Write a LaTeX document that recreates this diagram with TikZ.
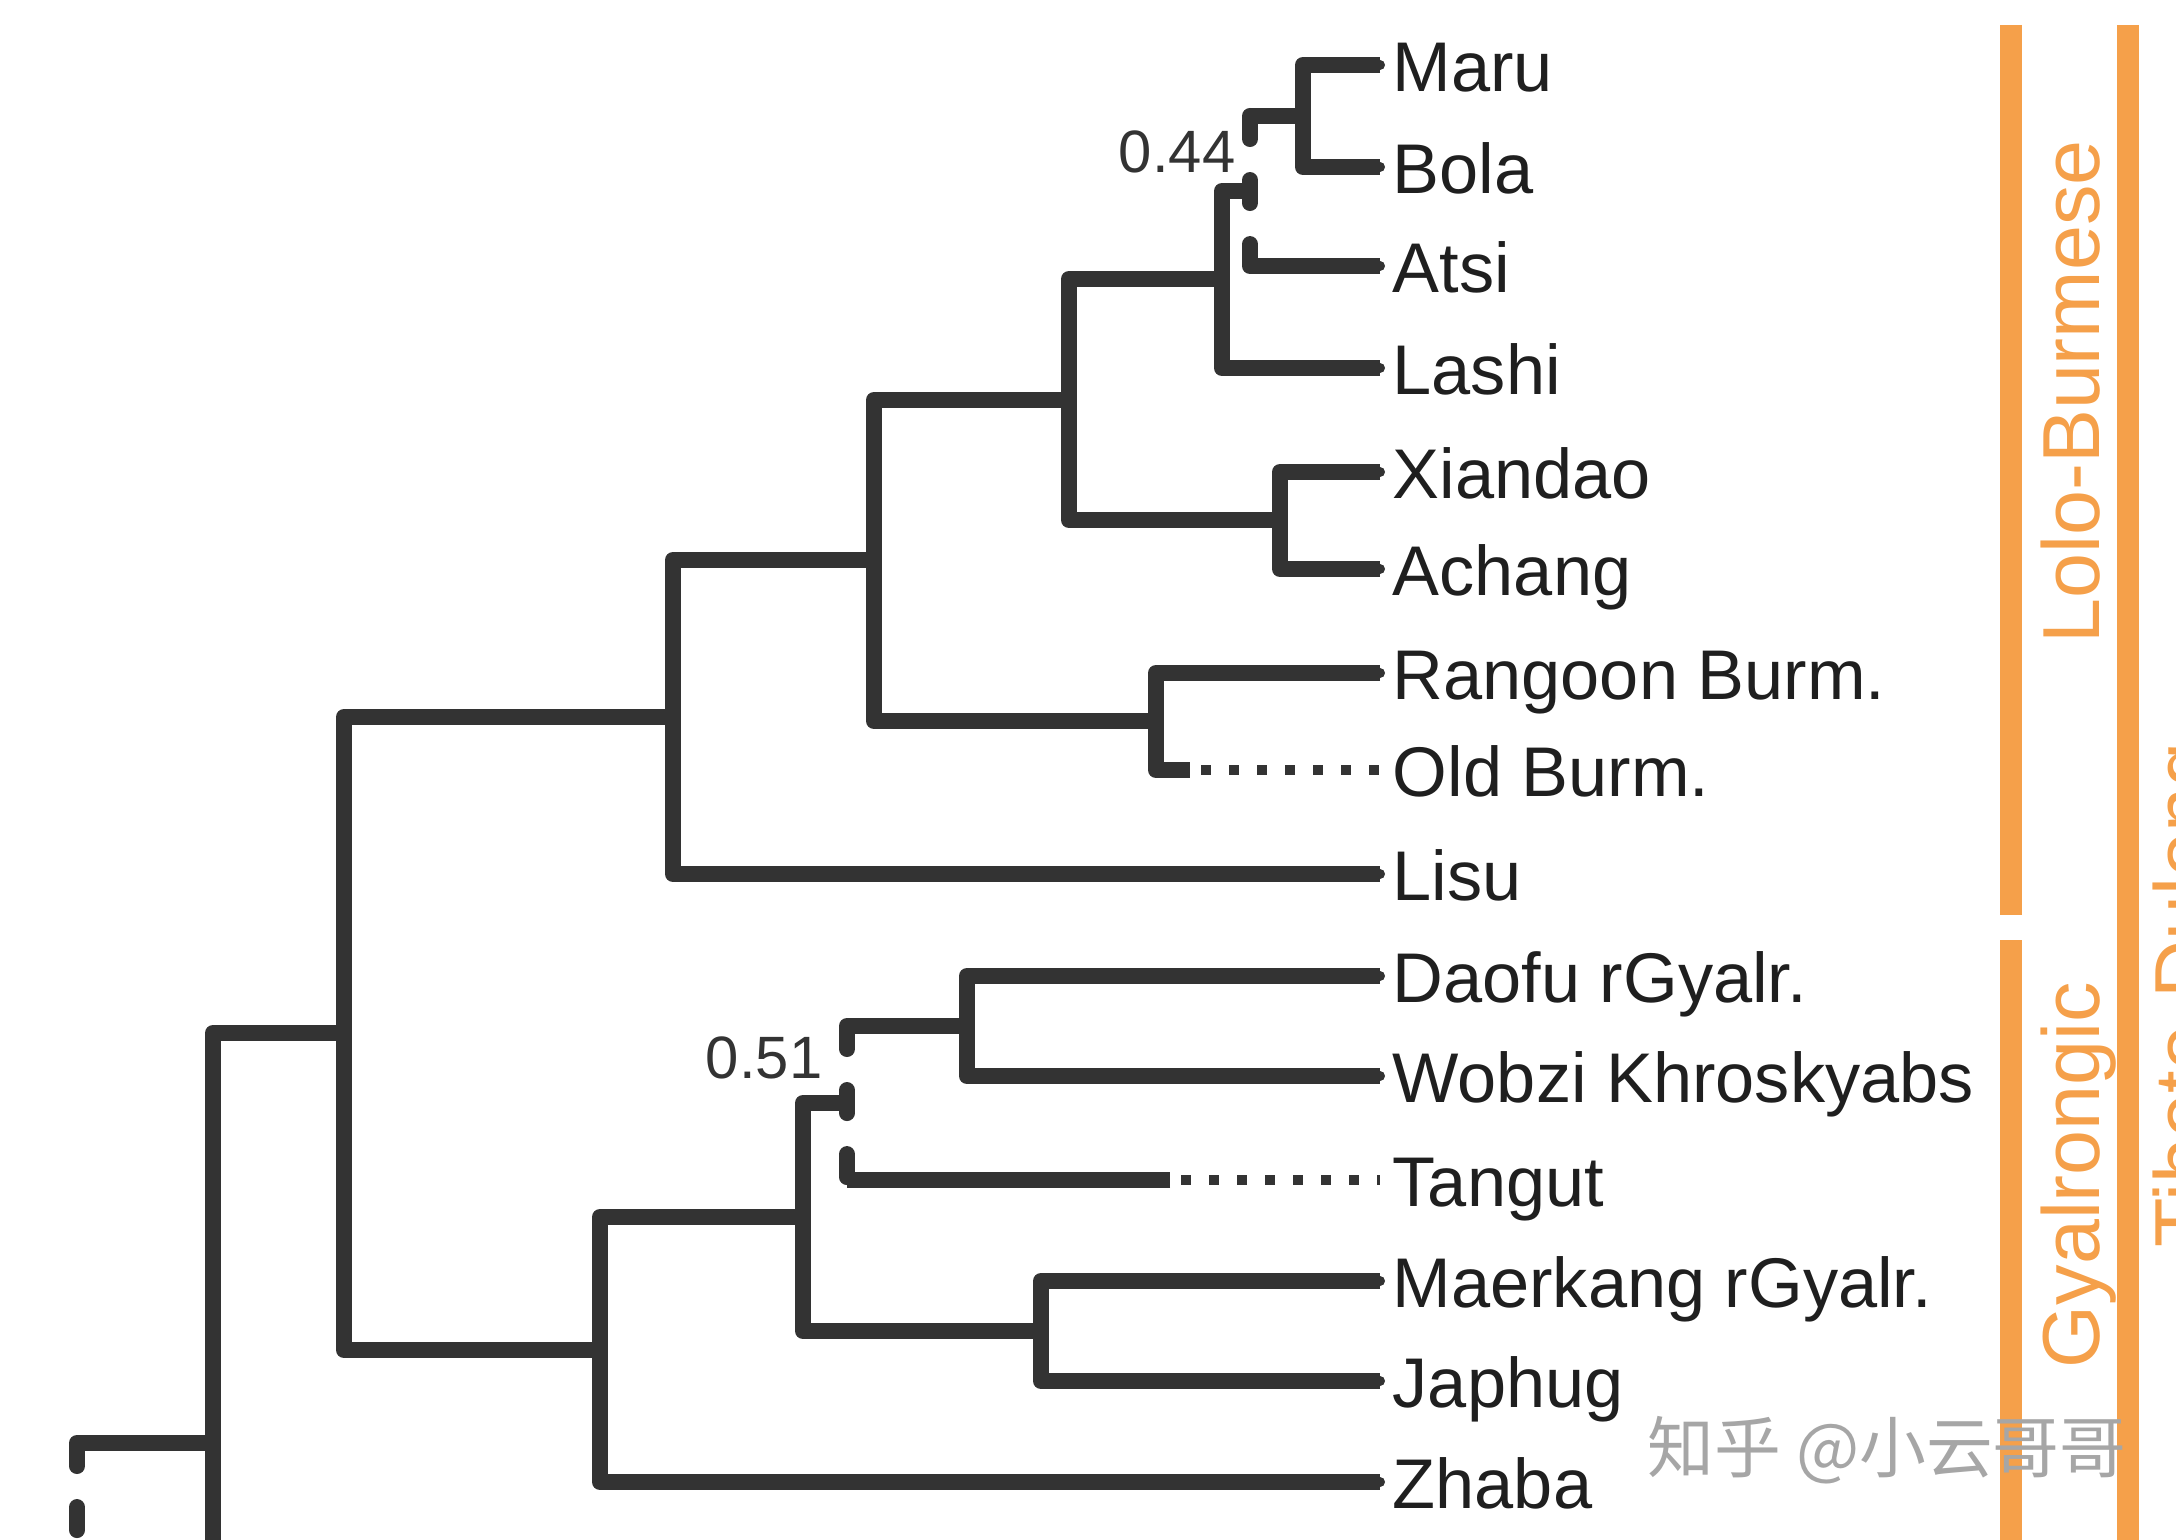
\documentclass[tikz,border=0pt]{standalone}
\usepackage{fontspec}
\setmainfont{Liberation Sans}
\newfontfamily\cjkfont{Noto Sans CJK SC}
\usetikzlibrary{positioning}

\definecolor{branchgray}{HTML}{333333}
\definecolor{cladeorange}{HTML}{F5A04A}

\begin{document}
\begin{tikzpicture}[
        x=0.01cm, y=-0.01cm,
        branch/.style={draw=branchgray, line width=1.6mm, line join=round},
        uncertain/.style={draw=branchgray, line width=1.6mm, line cap=round,
            dash pattern=on 2.3mm off 4.1mm},
        extinct/.style={draw=branchgray, line width=1mm,
            dash pattern=on 1mm off 1.8mm, dash phase=1.7mm},
        taxon/.style={anchor=base west, inner sep=0pt, xshift=1.2mm, yshift=-2.6mm,
            font=\fontsize{20}{24}\selectfont, text=black!88},
        support/.style={anchor=base east, inner sep=0pt,
            font=\fontsize{17}{20}\selectfont, text=black!80},
        cladebar/.style={draw=cladeorange, line width=2.2mm},
        cladename/.style={anchor=base, rotate=90, inner sep=0pt,
            font=\fontsize{23}{27}\selectfont, text=cladeorange}
    ]
        % Page frame (pixel units)
        \useasboundingbox (0,0) rectangle (2176,1540);
        \clip (0,0) rectangle (2176,1540);

        % Clade bars on the right
        \draw[cladebar] (2011,25) -- (2011,915);
        \draw[cladebar] (2011,940) -- (2011,1540);
        \draw[cladebar] (2128,25) -- (2128,1540);
        \node[cladename] (lolo) at (2099,392) {Lolo-Burmese};
        \node[cladename] (gyal) at (2099,1175) {Gyalrongic};
        \node[cladename] (tibdul) at (2211,995) {Tibeto-Dulong};

        % Leaf tips
        \coordinate (maru) at (1380,65);
        \coordinate (bola) at (1380,167);
        \coordinate (atsi) at (1380,266);
        \coordinate (lashi) at (1380,368);
        \coordinate (xiandao) at (1380,472);
        \coordinate (achang) at (1380,569);
        \coordinate (rangoon) at (1380,673);
        \coordinate (oldburm) at (1380,770);
        \coordinate (lisu) at (1380,874);
        \coordinate (daofu) at (1380,976);
        \coordinate (wobzi) at (1380,1076);
        \coordinate (tangut) at (1380,1180);
        \coordinate (maerkang) at (1380,1281);
        \coordinate (japhug) at (1380,1381);
        \coordinate (zhaba) at (1380,1482);

        % Internal nodes
        \coordinate (nMB) at (1303,116);
        \coordinate (n44) at (1250,191);
        \coordinate (nL) at (1222,279);
        \coordinate (nXA) at (1280,520);
        \coordinate (nLB1) at (1069,400);
        \coordinate (oldstub) at (1190,770);
        \coordinate (nRB) at (1156,721);
        \coordinate (nBurm) at (874,560);
        \coordinate (nLoloB) at (673,717);
        \coordinate (nDW) at (967,1026);
        \coordinate (tangstub) at (1170,1180);
        \coordinate (n51) at (847,1103);
        \coordinate (nMJ) at (1041,1331);
        \coordinate (nG1) at (803,1217);
        \coordinate (nGyal) at (600,1350);
        \coordinate (nTop) at (344,1033);
        \coordinate (nCore) at (213,1443);
        \coordinate (nRoot) at (77,1443);

        % Lolo-Burmese part
        \draw[branch] (maru) -| (nMB) |- (bola);
        \draw[branch] (nMB) -- (nMB -| n44);
        \draw[branch] (atsi) -- (atsi -| n44);
        \draw[uncertain] (nMB -| n44) -- (atsi -| n44);
        \draw[branch] (n44) -| (nL) |- (lashi);
        \draw[branch] (xiandao) -| (nXA) |- (achang);
        \draw[branch] (nL) -| (nLB1) |- (nXA);
        \draw[branch] (rangoon) -| (nRB) |- (oldstub);
        \draw[extinct] (oldstub) -- (oldburm);
        \draw[branch] (nLB1) -| (nBurm) |- (nRB);
        \draw[branch] (nBurm) -| (nLoloB) |- (lisu);

        % Gyalrongic part
        \draw[branch] (daofu) -| (nDW) |- (wobzi);
        \draw[branch] (nDW) -- (nDW -| n51);
        \draw[branch] (tangstub) -- (tangstub -| n51);
        \draw[uncertain] (nDW -| n51) -- (tangstub -| n51);
        \draw[extinct] (tangstub) -- (tangut);
        \draw[branch] (maerkang) -| (nMJ) |- (japhug);
        \draw[branch] (n51) -| (nG1) |- (nMJ);
        \draw[branch] (nG1) -| (nGyal) |- (zhaba);

        % Deeper splits
        \draw[branch] (nLoloB) -| (nTop) |- (nGyal);
        \draw[branch] (nTop) -| (nCore) -- ++(0,200);
        \draw[branch] (nCore) -- (nRoot);
        \draw[uncertain] (nRoot) -- ++(0,200);

        % Tip dots
        \fill[branchgray] (maru) circle (0.5mm) (bola) circle (0.5mm)
            (atsi) circle (0.5mm) (lashi) circle (0.5mm)
            (xiandao) circle (0.5mm) (achang) circle (0.5mm)
            (rangoon) circle (0.5mm) (lisu) circle (0.5mm)
            (daofu) circle (0.5mm) (wobzi) circle (0.5mm)
            (maerkang) circle (0.5mm) (japhug) circle (0.5mm)
            (zhaba) circle (0.5mm);

        % Support values
        \node[support] (s44) at (1236,173) {0.44};
        \node[support] (s51) at (823,1078) {0.51};

        % Leaf labels
        \node[taxon] (maru-l) at (maru) {Maru};
        \node[taxon] (bola-l) at (bola) {Bola};
        \node[taxon] (atsi-l) at (atsi) {Atsi};
        \node[taxon] (lashi-l) at (lashi) {Lashi};
        \node[taxon] (xiandao-l) at (xiandao) {Xiandao};
        \node[taxon] (achang-l) at (achang) {Achang};
        \node[taxon] (rangoon-l) at (rangoon) {Rangoon Burm.};
        \node[taxon] (oldburm-l) at (oldburm) {Old Burm.};
        \node[taxon] (lisu-l) at (lisu) {Lisu};
        \node[taxon] (daofu-l) at (daofu) {Daofu rGyalr.};
        \node[taxon] (wobzi-l) at (wobzi) {Wobzi Khroskyabs};
        \node[taxon] (tangut-l) at (tangut) {Tangut};
        \node[taxon] (maerkang-l) at (maerkang) {Maerkang rGyalr.};
        \node[taxon] (japhug-l) at (japhug) {Japhug};
        \node[taxon] (zhaba-l) at (zhaba) {Zhaba};

        % Watermark
        \node[font=\cjkfont\fontsize{19}{22}\selectfont, text=black!35, inner sep=0pt]
            (watermark) at (1887,1450) {知乎 @小云哥哥};
    \end{tikzpicture}
\end{document}
